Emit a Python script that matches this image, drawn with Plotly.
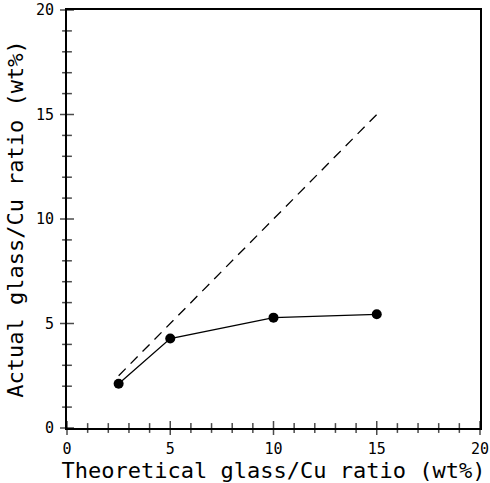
import plotly.graph_objects as go

theoretical = [2.5, 5, 10, 15]
actual = [2.12, 4.28, 5.28, 5.44]
ideal_x = [2.5, 15]
ideal_y = [2.5, 15]
major_ticks = [0, 5, 10, 15, 20]
minor_ticks = list(range(0, 21))

font_family = "DejaVu Sans Mono"

fig = go.Figure()
fig.add_trace(go.Scatter(x=ideal_x, y=ideal_y, mode="lines",
                         line=dict(color="black", width=1.3, dash="10px,7px"),
                         showlegend=False, hoverinfo="skip"))
fig.add_trace(go.Scatter(x=theoretical, y=actual, mode="lines+markers",
                         line=dict(color="black", width=1.3),
                         marker=dict(color="black", size=10),
                         showlegend=False))

# tick marks as line-shaped markers sitting on the axes
tick_sizes = [10 if t in major_ticks else 7 for t in minor_ticks]
fig.add_trace(go.Scatter(x=minor_ticks, y=[0] * len(minor_ticks), mode="markers",
                         cliponaxis=False, showlegend=False, hoverinfo="skip",
                         marker=dict(symbol="line-ns", size=tick_sizes,
                                     line=dict(color="black", width=1.5))))
fig.add_trace(go.Scatter(x=[0] * len(minor_ticks), y=minor_ticks, mode="markers",
                         cliponaxis=False, showlegend=False, hoverinfo="skip",
                         marker=dict(symbol="line-ew", size=tick_sizes,
                                     line=dict(color="black", width=1.5))))

axis_common = dict(
    range=[0, 20], tickmode="linear", tick0=0, dtick=5, automargin=False,
    showgrid=False, zeroline=False, showline=True, linecolor="black", linewidth=2,
    mirror=True, ticks="",
    tickfont=dict(family=font_family, size=15, color="black"),
)

fig.update_layout(
    width=490, height=483,
    margin=dict(l=67, r=10, t=10, b=55),
    paper_bgcolor="white", plot_bgcolor="white",
    xaxis=dict(**axis_common, ticklabelstandoff=6,
               title=dict(text="Theoretical glass/Cu ratio (wt%)", standoff=2,
                          font=dict(family=font_family, size=22, color="black"))),
    yaxis=dict(**axis_common, ticklabelstandoff=8,
               title=dict(text="Actual glass/Cu ratio (wt%)", standoff=6,
                          font=dict(family=font_family, size=22, color="black"))),
)

fig.write_html("out.html")
